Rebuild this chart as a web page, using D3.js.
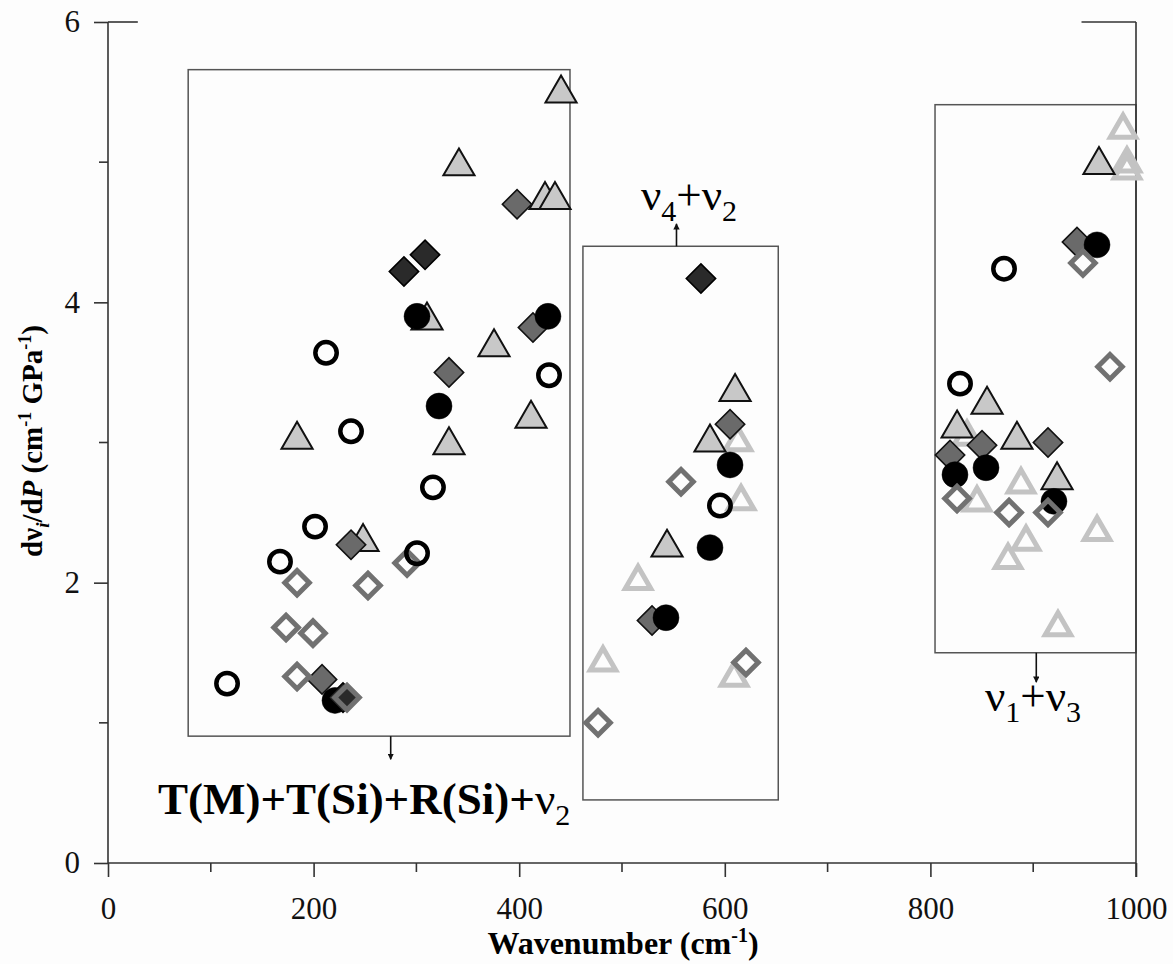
<!DOCTYPE html>
<html>
<head>
<meta charset="utf-8">
<script src="https://cdn.jsdelivr.net/npm/d3@7"></script>
<style>
  html, body { margin: 0; padding: 0; background: #fff; }
  svg { display: block; font-family: "Liberation Serif", "Times New Roman", serif; }
</style>
</head>
<body>
<svg id="chart" width="1173" height="964"></svg>
<script>
// ---------- data: [wavenumber (cm-1), dv/dP (cm-1 GPa-1)] ----------
const openCircles = [[115.8,1.28],[167.3,2.15],[201.4,2.40],[212.1,3.64],[236.4,3.08],[300.6,2.21],[316.1,2.68],[429.0,3.48],[595.3,2.55],[828.8,3.42],[871.6,4.24]];
const blackCircles = [[220.8,1.16],[300.6,3.90],[322.0,3.26],[428.0,3.90],[542.8,1.75],[585.6,2.25],[605.1,2.84],[823.9,2.77],[854.1,2.82],[920.2,2.58],[962.1,4.41]];
const blackDiamonds = [[228.6,1.18],[287.9,4.22],[308.4,4.34],[576.8,4.17]];
const grayDiamonds = [[208.2,1.31],[236.4,2.27],[331.7,3.50],[397.9,4.70],[413.4,3.82],[529.2,1.73],[605.1,3.13],[819.1,2.91],[850.2,2.98],[914.4,3.00],[942.6,4.43]];
const grayTriangles = [[183.9,3.02],[248.1,2.29],[310.3,3.87],[331.7,2.98],[341.4,4.97],[375.5,3.68],[411.5,3.17],[425.1,4.73],[434.8,4.73],[440.7,5.49],[543.8,2.25],[585.6,3.00],[610.0,3.36],[826.0,3.10],[855.1,3.27],[884.2,3.02],[923.2,2.73],[964.0,4.98]];
const openDiamonds = [[183.9,2.00],[252.9,1.98],[173.2,1.68],[199.4,1.64],[183.9,1.33],[232.5,1.18],[290.9,2.14],[476.7,1.00],[557.4,2.72],[620.6,1.43],[825.9,2.60],[876.5,2.50],[914.4,2.50],[948.4,4.28],[974.7,3.54]];
const openTriangles = [[481.5,1.43],[515.6,2.01],[609.0,1.32],[612.8,3.00],[615.8,2.58],[835.6,3.04],[845.3,2.57],[888.1,2.70],[893.0,2.29],[875.5,2.16],[924.1,1.68],[962.1,2.36],[987.4,5.23],[991.2,4.99],[991.2,4.94]];

const xTicks = [0, 200, 400, 600, 800, 1000];
const xMinor = [100, 300, 500, 700, 900];
const yTicks = [0, 2, 4, 6];
const yMinor = [1, 3, 5];

// annotation boxes in data units: [x0, x1, yTop, yBottom]
const boxes = [
  { ext: [78, 449.4, 5.66, 0.905], arrow: { x: 275, from: 0.905, to: 0.74 } },
  { ext: [462, 652, 4.40, 0.45], arrow: { x: 553, from: 4.40, to: 4.56 } },
  { ext: [804.5, 1000, 5.41, 1.50], arrow: { x: 903, from: 1.50, to: 1.29 } }
];

// ---------- layout ----------
const svg = d3.select("#chart");
const x = d3.scaleLinear().domain([0, 1000]).range([108, 1136]);
const y = d3.scaleLinear().domain([0, 6]).range([863, 22]);
const axisColor = "#333";

svg.append("rect").attr("width", 1173).attr("height", 964).attr("fill", "#fdfdfd");

// arrow marker
const defs = svg.append("defs");
defs.append("marker").attr("id", "ah").attr("viewBox", "0 0 10 10")
  .attr("refX", 9).attr("refY", 5).attr("markerWidth", 4).attr("markerHeight", 4)
  .attr("orient", "auto")
  .append("path").attr("d", "M0,0 L10,5 L0,10 z").attr("fill", "#111");

// boxes
boxes.forEach(b => {
  const [x0, x1, yt, yb] = b.ext;
  svg.append("rect")
    .attr("x", x(x0)).attr("y", y(yt))
    .attr("width", x(x1) - x(x0)).attr("height", y(yb) - y(yt))
    .attr("fill", "none").attr("stroke", "#555").attr("stroke-width", 1.5);
  svg.append("line")
    .attr("x1", x(b.arrow.x)).attr("x2", x(b.arrow.x))
    .attr("y1", y(b.arrow.from)).attr("y2", y(b.arrow.to))
    .attr("stroke", "#111").attr("stroke-width", 1.6)
    .attr("marker-end", "url(#ah)");
});

// axes
const xAxis = d3.axisBottom(x).tickValues(xTicks).tickSize(14).tickPadding(20).tickFormat(d3.format("d"));
const gx = svg.append("g").attr("transform", `translate(0,${y(0)})`).call(xAxis);
const yAxis = d3.axisLeft(y).tickValues(yTicks).tickSize(14).tickPadding(14).tickFormat(d3.format("d"));
const gy = svg.append("g").attr("transform", `translate(${x(0)},0)`).call(yAxis);
[gx, gy].forEach(g => {
  g.select(".domain").attr("stroke", axisColor).attr("stroke-width", 1.6);
  g.selectAll(".tick line").attr("stroke", axisColor).attr("stroke-width", 1.6);
  g.selectAll(".tick text").attr("fill", "#111")
    .style("font-family", "Liberation Serif").style("font-size", "31px");
});
gx.select(".domain").attr("d", `M${x(0)},0H${x(1000)}`);
gy.select(".domain").attr("d", `M0,${y(0)}V${y(6)}`);

// minor ticks
svg.append("g").selectAll("line").data(xMinor).join("line")
  .attr("x1", d => x(d)).attr("x2", d => x(d))
  .attr("y1", y(0)).attr("y2", y(0) + 9)
  .attr("stroke", axisColor).attr("stroke-width", 1.6);
svg.append("g").selectAll("line").data(yMinor).join("line")
  .attr("x1", x(0) - 9).attr("x2", x(0))
  .attr("y1", d => y(d)).attr("y2", d => y(d))
  .attr("stroke", axisColor).attr("stroke-width", 1.6);

// right axis and partial top frame
svg.append("line").attr("x1", x(1000)).attr("x2", x(1000))
  .attr("y1", y(6)).attr("y2", y(0) + 14)
  .attr("stroke", axisColor).attr("stroke-width", 1.6);
svg.append("line").attr("x1", x(0)).attr("x2", x(29))
  .attr("y1", y(6)).attr("y2", y(6)).attr("stroke", axisColor).attr("stroke-width", 1.6);
svg.append("line").attr("x1", x(947)).attr("x2", x(1000))
  .attr("y1", y(6)).attr("y2", y(6)).attr("stroke", axisColor).attr("stroke-width", 1.6);

// ---------- markers ----------
const sq = d3.symbol().type(d3.symbolSquare);
const tri = d3.symbol().type(d3.symbolTriangle);
const circ = d3.symbol().type(d3.symbolCircle);

function plot(data, gen, size, rot, style) {
  const g = svg.append("g");
  g.selectAll("path").data(data).join("path")
    .attr("d", gen.size(size)())
    .attr("transform", d => `translate(${x(d[0])},${y(d[1])}) rotate(${rot})`)
    .attr("fill", style.fill).attr("stroke", style.stroke)
    .attr("stroke-width", style.sw).attr("stroke-linejoin", "miter");
}

plot(openTriangles, tri, 280, 0, { fill: "none", stroke: "#c3c3c3", sw: 5 });
plot(grayTriangles, tri, 420, 0, { fill: "#c8c8c8", stroke: "#111", sw: 2 });
plot(grayDiamonds, sq, 430, 45, { fill: "#6a6a6a", stroke: "#111", sw: 1.6 });
plot(blackCircles, circ, 530, 0, { fill: "#000", stroke: "#000", sw: 0.5 });
plot(blackDiamonds, sq, 430, 45, { fill: "#2a2a2a", stroke: "#000", sw: 1.6 });
plot(openDiamonds, sq, 300, 45, { fill: "none", stroke: "#717171", sw: 5 });
plot(openCircles, circ, 360, 0, { fill: "none", stroke: "#000", sw: 4.5 });

// ---------- text ----------
// band labels
const t1 = svg.append("text").attr("x", 158).attr("y", 814)
  .style("font-size", "45px").attr("fill", "#000");
t1.append("tspan").attr("font-weight", "bold").text("T(M)+T(Si)+R(Si)+");
t1.append("tspan").text("ν");
t1.append("tspan").attr("dy", 11).style("font-size", "30px").text("2");

const t2 = svg.append("text").attr("x", 641).attr("y", 210)
  .style("font-size", "45px").attr("fill", "#000");
t2.append("tspan").text("ν");
t2.append("tspan").attr("dy", 11).style("font-size", "30px").text("4");
t2.append("tspan").attr("dy", -11).text("+ν");
t2.append("tspan").attr("dy", 11).style("font-size", "30px").text("2");

const t3 = svg.append("text").attr("x", 985).attr("y", 711)
  .style("font-size", "45px").attr("fill", "#000");
t3.append("tspan").text("ν");
t3.append("tspan").attr("dy", 11).style("font-size", "30px").text("1");
t3.append("tspan").attr("dy", -11).text("+ν");
t3.append("tspan").attr("dy", 11).style("font-size", "30px").text("3");

// axis titles
const xt = svg.append("text").attr("x", 623).attr("y", 954)
  .attr("text-anchor", "middle").attr("font-weight", "bold")
  .style("font-size", "32px").attr("fill", "#000");
xt.append("tspan").text("Wavenumber (cm");
xt.append("tspan").attr("dy", -12).style("font-size", "20px").text("-1");
xt.append("tspan").attr("dy", 12).text(")");

const yt = svg.append("text")
  .attr("transform", `translate(42,441) rotate(-90)`)
  .attr("text-anchor", "middle").attr("font-weight", "bold")
  .style("font-size", "29px").attr("fill", "#000");
yt.append("tspan").text("dν");
yt.append("tspan").attr("dy", 7).attr("font-style", "italic").style("font-size", "19px").text("i");
yt.append("tspan").attr("dy", -7).text("/d");
yt.append("tspan").attr("font-style", "italic").text("P");
yt.append("tspan").text(" (cm");
yt.append("tspan").attr("dy", -11).style("font-size", "18px").text("-1");
yt.append("tspan").attr("dy", 11).text(" GPa");
yt.append("tspan").attr("dy", -11).style("font-size", "18px").text("-1");
yt.append("tspan").attr("dy", 11).text(")");
</script>
</body>
</html>
